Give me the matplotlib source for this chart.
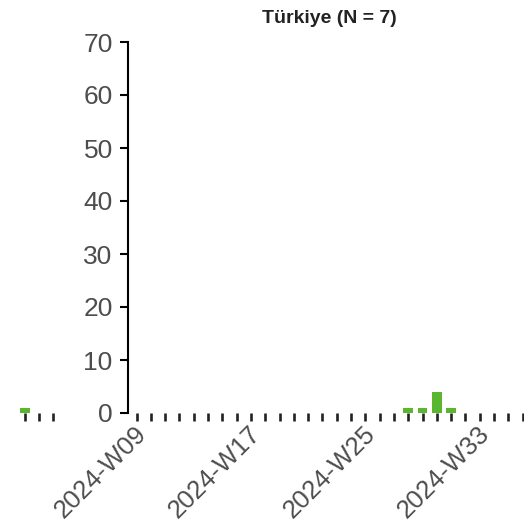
import matplotlib
matplotlib.use("Agg")
import matplotlib.pyplot as plt

# weekly case counts, one bar per ISO week
weeks = ["2024-W08", "2024-W09", "2024-W10", "2024-W11", "2024-W12", "2024-W13",
         "2024-W14", "2024-W15", "2024-W16", "2024-W17", "2024-W18", "2024-W19",
         "2024-W20", "2024-W21", "2024-W22", "2024-W23", "2024-W24", "2024-W25",
         "2024-W26", "2024-W27", "2024-W28", "2024-W29", "2024-W30", "2024-W31",
         "2024-W32", "2024-W33", "2024-W34", "2024-W35"]
turkiye_counts = [0, 0, 0, 0, 0, 0, 0, 0, 0, 0, 0, 0, 0, 0,
                  0, 0, 0, 0, 0, 1, 1, 4, 1, 0, 0, 0, 0, 0]
# neighbouring panel, only its last weeks fall inside the figure
left_weeks = ["2024-W31", "2024-W32", "2024-W33"]
left_counts = [1, 0, 0]
labelled_weeks = ["2024-W09", "2024-W17", "2024-W25", "2024-W33"]
y_ticks = [0, 10, 20, 30, 40, 50, 60, 70]

plt.rcParams["font.family"] = ["Liberation Sans", "DejaVu Sans"]

BAR_GREEN = "#5ab52f"
TEXT_GREY = "#4d4d4d"

W, H = 524, 530
fig = plt.figure(figsize=(W / 100, H / 100), dpi=100)


def panel(rect, names, counts, xlim, show_y=True, show_labels=True):
    ax = fig.add_axes(rect)
    x = list(range(len(names)))
    ax.bar(x, counts, width=0.68, color=BAR_GREEN, linewidth=0)
    ax.set_xlim(*xlim)
    ax.set_ylim(0, 70)
    for side in ("top", "right", "bottom"):
        ax.spines[side].set_visible(False)
    ax.spines["left"].set_linewidth(1.5)
    ax.set_xticks(x)
    if show_labels:
        labels = [n if n in labelled_weeks else "" for n in names]
    else:
        labels = [""] * len(names)
    ax.set_xticklabels(labels, rotation=45, ha="right", va="top",
                       fontsize=18.5, color=TEXT_GREY)
    ax.tick_params(axis="x", length=6, width=1.9, color="#222222", pad=0)
    ax.set_yticks(y_ticks)
    ax.tick_params(axis="y", length=6, width=1.5, color="black",
                   labelsize=19, labelcolor=TEXT_GREY, pad=5)
    if not show_y:
        ax.spines["left"].set_visible(False)
        ax.tick_params(axis="y", left=False, labelleft=False)
    ax.patch.set_alpha(0)
    return ax


# panel geometry in pixels
step = 14.3
p_bottom = (H - 413) / H
p_height = (413 - 42) / H

panel([18 / W, p_bottom, (62 - 18) / W, p_height], left_weeks, left_counts,
      (-0.5, len(left_weeks) - 0.4), show_y=False, show_labels=False)
ax = panel([128 / W, p_bottom, (step * (len(weeks) + 0.2)) / W, p_height],
           weeks, turkiye_counts, (-0.6, len(weeks) - 0.4))
ax.set_title("Türkiye (N = 7)", fontsize=14, fontweight="bold",
             color="#222222", pad=14)

fig.savefig("out.png", dpi=100)
